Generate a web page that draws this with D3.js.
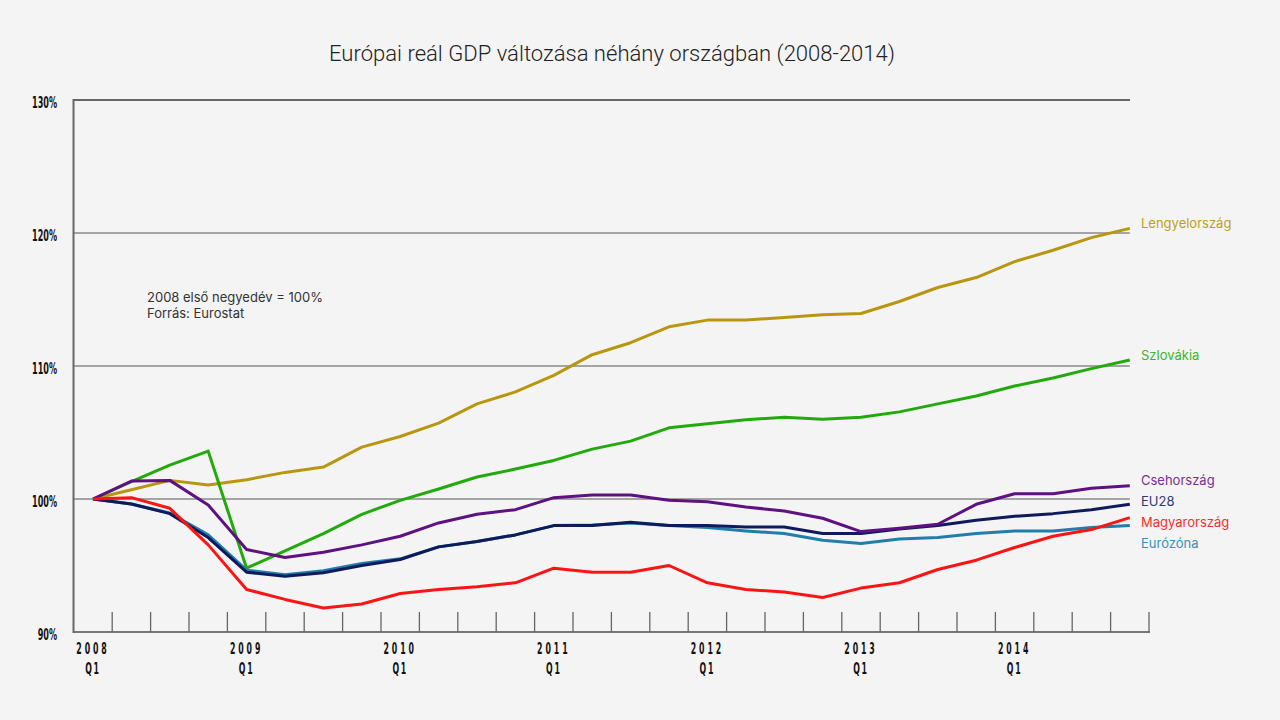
<!DOCTYPE html>
<html>
<head>
<meta charset="utf-8">
<script src="https://cdn.jsdelivr.net/npm/d3@7.9.0/dist/d3.min.js"></script>
<style>
  html, body { margin: 0; padding: 0; background: #f4f4f4; }
  svg { display: block; }
  .narrow { font-family: 'Liberation Sans Narrow', 'DejaVu Sans Condensed', 'Roboto', sans-serif; }
  .label { font-family: Inter, Roboto, 'Noto Sans', sans-serif; font-size: 13px; }
</style>
</head>
<body>
<svg id="chart" width="1280" height="720"></svg>
<script>
// quarters 2008 Q1 .. 2014 Q4
const years = ['2008', '2009', '2010', '2011', '2012', '2013', '2014'];
const quarters = years.flatMap(y => ['Q1', 'Q2', 'Q3', 'Q4'].map(q => `${y} ${q}`));

const yTicks = [90, 100, 110, 120, 130];

const lengyel = [100, 100.7, 101.4, 101.05, 101.45, 102.0, 102.4, 103.9, 104.7, 105.7, 107.15, 108.05, 109.3, 110.85,
  111.75, 112.95, 113.45, 113.45, 113.65, 113.85, 113.95, 114.85, 115.9, 116.65, 117.85, 118.7, 119.65, 120.35];
const szlovakia = [100, 101.3, 102.55, 103.6, 94.8, 96.1, 97.4, 98.85, 99.9, 100.75, 101.65, 102.25, 102.9, 103.75,
  104.35, 105.35, 105.65, 105.95, 106.15, 106.0, 106.15, 106.55, 107.15, 107.75, 108.5, 109.1, 109.8, 110.45];
const cseh = [100, 101.35, 101.4, 99.55, 96.2, 95.6, 96.0, 96.55, 97.2, 98.2, 98.85, 99.2, 100.1, 100.3,
  100.3, 99.9, 99.8, 99.4, 99.1, 98.55, 97.55, 97.8, 98.1, 99.6, 100.4, 100.4, 100.8, 101.0];
const eu28 = [100, 99.62, 98.9, 97.1, 94.5, 94.2, 94.45, 95.0, 95.45, 96.4, 96.8, 97.3, 98.0, 98.0,
  98.25, 98.0, 98.0, 97.9, 97.9, 97.4, 97.4, 97.75, 98.0, 98.4, 98.7, 98.9, 99.2, 99.6];
const magyar = [100, 100.1, 99.3, 96.55, 93.2, 92.45, 91.8, 92.1, 92.9, 93.2, 93.4, 93.7, 94.8, 94.5,
  94.5, 95.0, 93.7, 93.2, 93.0, 92.6, 93.3, 93.7, 94.7, 95.4, 96.35, 97.2, 97.7, 98.6];
const eurozona = [100, 99.62, 98.95, 97.3, 94.65, 94.3, 94.6, 95.15, 95.5, 96.4, 96.8, 97.3, 98.0, 98.05,
  98.2, 98.0, 97.85, 97.6, 97.4, 96.9, 96.65, 97.0, 97.1, 97.4, 97.6, 97.6, 97.85, 98.0];

const series = [
  { name: 'Lengyelország', values: lengyel, color: '#b8960f', text: '#bf9f1e' },
  { name: 'Szlovákia', values: szlovakia, color: '#22a90c', text: '#3fb52a' },
  { name: 'Eurózóna', values: eurozona, color: '#1f7eab', text: '#3b8fbb' },
  { name: 'EU28', values: eu28, color: '#0e1a5c', text: '#2e3a78' },
  { name: 'Csehország', values: cseh, color: '#5e1180', text: '#7a2e97' },
  { name: 'Magyarország', values: magyar, color: '#fb1414', text: '#f53030' }
];

const svg = d3.select('#chart');

const x = d3.scaleBand().domain(quarters).range([73.8, 1149]);
const xc = d => x(d) + x.bandwidth() / 2;
const y = d3.scaleLinear().domain([90, 130]).range([632, 100]);
const lastX = xc(quarters[quarters.length - 1]);

// title
svg.append('text')
  .attr('x', 329).attr('y', 61)
  .attr('font-family', 'Roboto, sans-serif')
  .attr('font-weight', 300)
  .attr('font-size', 22)
  .attr('textLength', 566)
  .attr('lengthAdjust', 'spacingAndGlyphs')
  .attr('fill', '#222')
  .text('Európai reál GDP változása néhány országban (2008-2014)');

// gridlines
svg.append('g').selectAll('line')
  .data(yTicks.filter(d => d > 90))
  .join('line')
  .attr('x1', 73).attr('x2', d => d === 130 ? 1130 : lastX)
  .attr('y1', d => y(d)).attr('y2', d => y(d))
  .attr('stroke', d => d === 130 ? '#666' : '#8a8a8a')
  .attr('stroke-width', d => d === 130 ? 1.8 : 1.3);

// y labels, squeezed horizontally like a condensed face
svg.append('g').selectAll('text')
  .data(yTicks)
  .join('text')
  .attr('class', 'narrow')
  .attr('transform', d => `translate(57,${y(d) + 8}) scale(0.58,1)`)
  .attr('text-anchor', 'end')
  .attr('font-size', 15.5)
  .attr('font-weight', 'bold')
  .attr('fill', '#111')
  .text(d => d + '%');

// x axis
const gx = svg.append('g').attr('transform', 'translate(0,632)');
gx.append('line').attr('x1', 73).attr('x2', 1150).attr('stroke', '#777').attr('stroke-width', 2);
gx.selectAll('line.tick')
  .data(quarters)
  .join('line')
  .attr('class', 'tick')
  .attr('x1', d => x(d) + x.bandwidth()).attr('x2', d => x(d) + x.bandwidth())
  .attr('y1', 0).attr('y2', -20)
  .attr('stroke', '#666').attr('stroke-width', 1.3);

// left axis
svg.append('line')
  .attr('x1', 73.5).attr('x2', 73.5).attr('y1', 99).attr('y2', 633)
  .attr('stroke', '#666').attr('stroke-width', 2);

// year labels
const yl = svg.append('g').selectAll('g')
  .data(years)
  .join('g')
  .attr('transform', d => `translate(${xc(d + ' Q1')},0) scale(0.58,1)`);
yl.append('text')
  .attr('class', 'narrow')
  .attr('y', 654).attr('text-anchor', 'middle')
  .attr('font-size', 15).attr('font-weight', 'bold')
  .attr('letter-spacing', 5).attr('fill', '#111')
  .text(d => d);
yl.append('text')
  .attr('class', 'narrow')
  .attr('y', 674).attr('text-anchor', 'middle')
  .attr('font-size', 15).attr('font-weight', 'bold')
  .attr('letter-spacing', 3).attr('fill', '#111')
  .text('Q1');

// lines
const line = d3.line()
  .x((d, i) => xc(quarters[i]))
  .y(d => y(d));

svg.append('g').selectAll('path')
  .data(series)
  .join('path')
  .attr('d', d => line(d.values))
  .attr('fill', 'none')
  .attr('stroke', d => d.color)
  .attr('stroke-width', 3)
  .attr('stroke-linejoin', 'round');

// end labels, simple dodge
const labels = series.map(s => ({ ...s, ly: y(s.values[s.values.length - 1]) - 5 }))
  .sort((a, b) => a.ly - b.ly);
labels.forEach((d, i) => {
  if (i > 0 && d.ly < labels[i - 1].ly + 21) d.ly = labels[i - 1].ly + 21;
});
svg.append('g').selectAll('text')
  .data(labels)
  .join('text')
  .attr('class', 'label')
  .attr('x', 1141).attr('y', d => d.ly + 4.5)
  .attr('fill', d => d.text)
  .text(d => d.name);

// note
const note = svg.append('text').attr('class', 'label').attr('fill', '#333').attr('font-size', 12.5);
note.append('tspan').attr('x', 147).attr('y', 302).text('2008 első negyedév = 100%');
note.append('tspan').attr('x', 147).attr('y', 318).text('Forrás: Eurostat');
</script>
</body>
</html>
